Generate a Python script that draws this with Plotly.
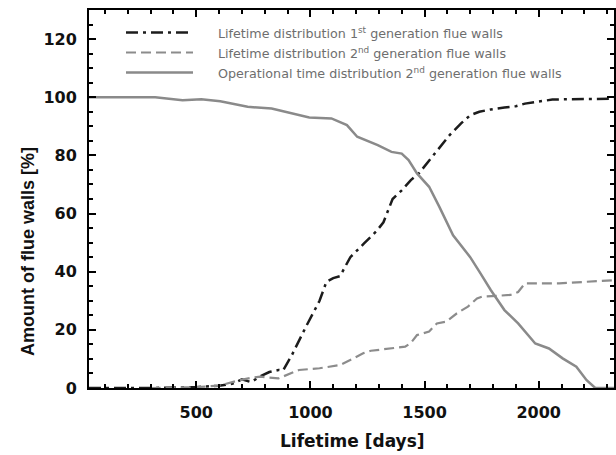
import plotly.graph_objects as go

# ---- data ----
gen1_days = [30, 300, 500, 600, 660, 700, 740, 780, 820, 860, 880, 920, 980, 1040, 1070, 1100,
             1130, 1175, 1235, 1290, 1320, 1360, 1400, 1440, 1475, 1535, 1610, 1660, 1700, 1740,
             1790, 1850, 1900, 1940, 2000, 2060, 2120, 2200, 2340]
gen1_vals = [0, 0, 0.3, 0.8, 1.5, 3, 2, 4, 5.5, 6.2, 6, 11.5, 21, 30, 36.5, 37.8,
             38.5, 45, 49.7, 54, 57, 65, 68, 71.5, 73.8, 79.5, 87, 91, 93.8, 95,
             95.8, 96.5, 96.9, 97.8, 98.5, 99.2, 99.3, 99.4, 99.5]

gen2_days = [300, 500, 600, 680, 740, 780, 860, 900, 950, 1040, 1130, 1190, 1233, 1265, 1340,
             1415, 1440, 1467, 1520, 1554, 1595, 1642, 1690, 1730, 1752, 1805, 1876, 1910, 1940,
             2090, 2210, 2340]
gen2_vals = [0, 0.3, 0.8, 2.5, 3.5, 3.9, 3.3, 4.5, 6.2, 6.8, 7.9, 10.2, 12, 12.8, 13.6,
             14.2, 15.5, 18.2, 19.4, 22.2, 22.8, 25.7, 28, 30.8, 31.4, 31.6, 32, 33, 36,
             36, 36.5, 37.1]

op_days = [30, 320, 440, 522, 605, 725, 830, 920, 995, 1092, 1160, 1205, 1295, 1355, 1400,
           1430, 1467, 1520, 1565, 1625, 1700, 1745, 1790, 1850, 1910, 1985, 2045, 2105, 2165,
           2210, 2248, 2340]
op_vals = [100, 100, 99.0, 99.3, 98.6, 96.7, 96.1, 94.4, 93.0, 92.7, 90.4, 86.4, 83.5, 81.2, 80.6,
           78.4, 73.8, 69.2, 62.3, 52.5, 45, 39.4, 33.7, 26.8, 22.2, 15.3, 13.6, 10.2, 7.3,
           2.7, 0, 0]

legend_labels = [
    "Lifetime distribution 1<sup>st</sup> generation flue walls",
    "Lifetime distribution 2<sup>nd</sup> generation flue walls",
    "Operational time distribution 2<sup>nd</sup> generation flue walls",
]
x_title = "Lifetime [days]"
y_title = "Amount of flue walls [%]"

x_range = [30, 2330]
y_range = [0, 130]
x_ticks = [500, 1000, 1500, 2000]
y_ticks = [0, 20, 40, 60, 80, 100, 120]

# ---- styles ----
styles = [
    dict(color="#1c1c1c", width=2.5, dash="12px,5px,3px,5px"),
    dict(color="#8c8c8c", width=2.2, dash="10px,5px"),
    dict(color="#8a8a8a", width=2.5, dash="solid"),
]

W, H = 616, 455
L, R, T, B = 89, 2, 10, 67
pw, ph = W - L - R, H - T - B


def px2paper_x(px):
    return (px - L) / pw


def px2paper_y(py):
    return (H - B - py) / ph


fig = go.Figure()
for xs, ys, st, name in zip([gen1_days, gen2_days, op_days], [gen1_vals, gen2_vals, op_vals],
                            styles, legend_labels):
    fig.add_trace(go.Scatter(x=xs, y=ys, mode="lines", line=st, name=name, showlegend=False))

# manual legend (long line samples like the reference)
rows_y = [32.5, 52.5, 72.5]
for st, label, py in zip(styles, legend_labels, rows_y):
    fig.add_shape(type="line", xref="paper", yref="paper",
                  x0=px2paper_x(126), x1=px2paper_x(193),
                  y0=px2paper_y(py), y1=px2paper_y(py),
                  line=dict(color=st["color"], width=st["width"], dash=st["dash"]))
    fig.add_annotation(xref="paper", yref="paper", x=px2paper_x(216), y=px2paper_y(py),
                       xanchor="left", yanchor="middle", showarrow=False, text=label,
                       font=dict(family="DejaVu Sans", size=12.7, color="#6e6e6e"))

# axis titles
fig.add_annotation(xref="paper", yref="paper", x=px2paper_x(352), y=px2paper_y(441),
                   xanchor="center", yanchor="middle", showarrow=False,
                   text="<b>" + x_title + "</b>",
                   font=dict(family="DejaVu Sans", size=17, color="#111111"))
fig.add_annotation(xref="paper", yref="paper", x=px2paper_x(28), y=px2paper_y(252),
                   xanchor="center", yanchor="middle", showarrow=False, textangle=-90,
                   text="<b>" + y_title + "</b>",
                   font=dict(family="Liberation Sans", size=18, color="#111111"))

axis_common = dict(
    showgrid=False, zeroline=False, showline=True, linecolor="black", linewidth=2,
    mirror="allticks", ticks="inside", ticklen=7, tickwidth=2, tickcolor="black",
    tickfont=dict(family="DejaVu Sans", size=16, color="#111111", weight="bold"),
)

fig.update_xaxes(range=x_range, tickvals=x_ticks, ticklabelstandoff=9,
                 minor=dict(dtick=100, tick0=0, ticks="inside", ticklen=4, tickwidth=2, tickcolor="black"),
                 **axis_common)
fig.update_yaxes(range=y_range, tickvals=y_ticks, ticklabelstandoff=7,
                 minor=dict(dtick=5, tick0=0, ticks="inside", ticklen=4, tickwidth=2, tickcolor="black"),
                 **axis_common)

fig.update_layout(width=W, height=H, margin=dict(l=L, r=R, t=T, b=B, autoexpand=False),
                  plot_bgcolor="white", paper_bgcolor="white", showlegend=False)

fig.write_html("out.html", config={"displayModeBar": False},
               post_script="document.body.style.margin='0';document.body.style.overflow='hidden';")
